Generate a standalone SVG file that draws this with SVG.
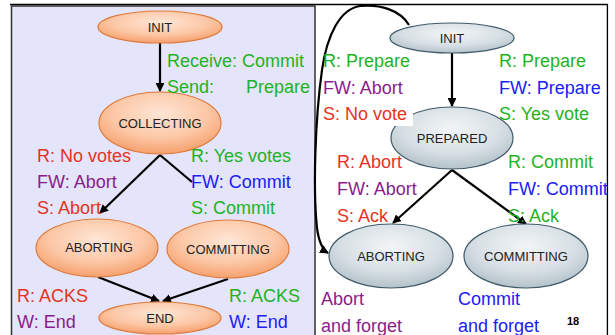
<svg xmlns="http://www.w3.org/2000/svg" width="615" height="335" viewBox="0 0 615 335">
<style>
.t{font-family:"Liberation Sans",Arial,sans-serif;font-size:18px}
.n{font-family:"Liberation Sans",Arial,sans-serif;font-size:13px;fill:#222;text-anchor:middle}
.g{fill:#1fb21f}.r{fill:#e5331d}.p{fill:#8a1c8c}.b{fill:#2020f5}
.o{fill:url(#og);stroke:#de7b3c;stroke-width:1.2}
.s{fill:url(#sg);stroke:#3f5a68;stroke-width:1.2}
.c{stroke:#000;stroke-width:2.2;fill:none}
</style>
<defs>
<radialGradient id="og" cx="50%" cy="35%" r="65%">
<stop offset="0" stop-color="#fee6d6"/><stop offset="0.6" stop-color="#fcc7a6"/><stop offset="1" stop-color="#f6a06c"/>
</radialGradient>
<radialGradient id="sg" cx="50%" cy="35%" r="65%">
<stop offset="0" stop-color="#f2f5f7"/><stop offset="0.6" stop-color="#d8e0e5"/><stop offset="1" stop-color="#b4c2ca"/>
</radialGradient>
<marker id="ah" viewBox="0 0 10 10" refX="9" refY="5" markerWidth="4" markerHeight="4" orient="auto">
<path d="M0,0 L10,5 L0,10 z" fill="#000"/>
</marker>
</defs>
<rect x="0" y="0" width="615" height="335" fill="#fff"/>
<line x1="10" y1="4.5" x2="608" y2="4.5" stroke="#000" stroke-width="1.5"/>
<line x1="607.5" y1="4" x2="607.5" y2="335" stroke="#000" stroke-width="1.5"/>
<rect id="panel" x="11.5" y="6" width="303.5" height="340" fill="#e4e4fa" stroke="#333" stroke-width="1.5"/>

<g id="connectors">
<line class="c" x1="160" y1="43" x2="160" y2="91" marker-end="url(#ah)"/>
<line class="c" x1="160" y1="155" x2="100" y2="213" marker-end="url(#ah)"/>
<line class="c" x1="160" y1="155" x2="192" y2="182"/>
<line class="c" x1="98" y1="277" x2="159" y2="301" marker-end="url(#ah)"/>
<line class="c" x1="228" y1="279" x2="163" y2="301" marker-end="url(#ah)"/>
<line class="c" x1="452" y1="53" x2="452" y2="106" marker-end="url(#ah)"/>
<line class="c" x1="452" y1="170" x2="393" y2="223" marker-end="url(#ah)"/>
<line class="c" x1="452" y1="170" x2="526" y2="224" marker-end="url(#ah)"/>
<path class="c" d="M409,25 C400,10 380,4 360,6 C340,9 327,35 322,70 C315,120 313,190 317,228 C319,243 323,250 328,253" marker-end="url(#ah)"/>
</g>

<g id="l-init"><ellipse class="o" cx="160" cy="27" rx="62" ry="16"/><text class="n" x="160" y="32">INIT</text></g>
<g id="l-collecting"><ellipse class="o" cx="160" cy="123" rx="61" ry="31"/><text class="n" x="160" y="128">COLLECTING</text></g>
<g id="l-aborting"><ellipse class="o" cx="97" cy="248" rx="61" ry="29"/><text class="n" x="99" y="252">ABORTING</text></g>
<g id="l-committing"><ellipse class="o" cx="228" cy="249" rx="61" ry="29"/><text class="n" x="228" y="254">COMMITTING</text></g>
<g id="l-end"><ellipse class="o" cx="160" cy="318" rx="61" ry="16"/><text class="n" x="160" y="323">END</text></g>

<g id="r-init"><ellipse class="s" cx="452" cy="38" rx="62" ry="15"/><text class="n" x="452" y="43">INIT</text></g>
<g id="r-prepared"><ellipse class="s" cx="452" cy="138" rx="61" ry="31"/><text class="n" x="452" y="143">PREPARED</text></g>
<g id="r-aborting"><ellipse class="s" cx="391" cy="256" rx="62" ry="32"/><text class="n" x="391" y="261">ABORTING</text></g>
<g id="r-committing"><ellipse class="s" cx="526" cy="256" rx="62" ry="32"/><text class="n" x="526" y="261">COMMITTING</text></g>

<g id="labels" class="t">
<text class="t g" x="167" y="67">Receive: Commit</text>
<text class="t g" x="167" y="93">Send:</text>
<text class="t g" x="246" y="93">Prepare</text>
<text class="t r" x="37" y="162">R: No votes</text>
<text class="t g" x="191" y="162">R: Yes votes</text>
<text class="t p" x="37" y="188">FW: Abort</text>
<text class="t b" x="191" y="188">FW: Commit</text>
<text class="t r" x="37" y="214">S: Abort</text>
<text class="t g" x="191" y="214">S: Commit</text>
<text class="t r" x="17" y="302">R: ACKS</text>
<text class="t p" x="17" y="328">W: End</text>
<text class="t g" x="229" y="302">R: ACKS</text>
<text class="t b" x="229" y="328">W: End</text>

<text class="t g" x="323" y="67">R: Prepare</text>
<text class="t p" x="323" y="94">FW: Abort</text>
<rect x="322" y="104" width="91" height="22" fill="#fff"/>
<text class="t r" x="323" y="120">S: No vote</text>
<text class="t g" x="499" y="67">R: Prepare</text>
<text class="t b" x="499" y="94">FW: Prepare</text>
<text class="t g" x="499" y="120">S: Yes vote</text>
<text class="t r" x="337" y="168">R: Abort</text>
<text class="t p" x="337" y="195">FW: Abort</text>
<text class="t r" x="337" y="222">S: Ack</text>
<text class="t g" x="508" y="168">R: Commit</text>
<text class="t b" x="508" y="195">FW: Commit</text>
<text class="t g" x="508" y="222">S: Ack</text>
<text class="t p" x="321" y="305">Abort</text>
<text class="t p" x="321" y="332">and forget</text>
<text class="t b" x="458" y="305">Commit</text>
<text class="t b" x="458" y="332">and forget</text>
<text x="567" y="325" font-family="Liberation Sans,Arial,sans-serif" font-size="11" font-weight="bold">18</text>
</g>
<rect x="608.3" y="0" width="7" height="335" fill="#fff"/>
</svg>
